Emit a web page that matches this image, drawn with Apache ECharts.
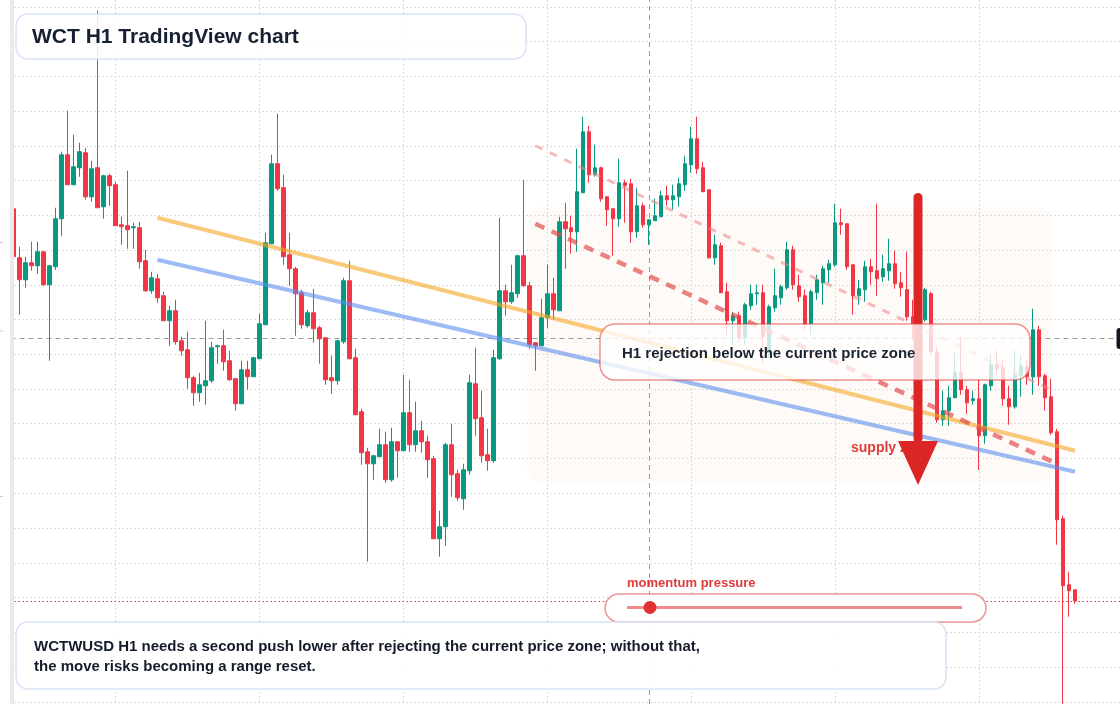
<!DOCTYPE html>
<html>
<head>
<meta charset="utf-8">
<title>WCT H1 TradingView chart</title>
<script src="https://cdn.jsdelivr.net/npm/echarts@6/dist/echarts.min.js"></script>
<style>
    html, body { margin: 0; padding: 0; background: #fff; }
    #chart { width: 1120px; height: 704px; }
</style>
</head>
<body>
<div id="chart"></div>
<script>
// WCTUSD H1 candles (price scale has no visible labels)
const open = [0.2578,0.2529,0.2507,0.2524,0.2521,0.2535,0.2502,0.2520,0.2568,0.2632,
    0.2602,0.2619,0.2634,0.2590,0.2619,0.2580,0.2611,0.2602,0.2562,0.2561,
    0.2559,0.2559,0.2526,0.2496,0.2508,0.2491,0.2466,0.2476,0.2446,0.2437,
    0.2409,0.2394,0.2401,0.2406,0.2440,0.2441,0.2426,0.2408,0.2383,0.2417,
    0.2410,0.2428,0.2462,0.2543,0.2623,0.2599,0.2532,0.2518,0.2494,0.2461,
    0.2474,0.2459,0.2449,0.2409,0.2406,0.2445,0.2506,0.2429,0.2375,0.2335,
    0.2323,0.2330,0.2342,0.2307,0.2345,0.2336,0.2374,0.2342,0.2356,0.2345,
    0.2328,0.2248,0.2260,0.2342,0.2313,0.2288,0.2316,0.2403,0.2369,0.2332,
    0.2326,0.2428,0.2496,0.2485,0.2493,0.2531,0.2501,0.2444,0.2441,0.2469,
    0.2493,0.2476,0.2565,0.2559,0.2555,0.2594,0.2655,0.2612,0.2619,0.2590,
    0.2578,0.2568,0.2604,0.2603,0.2555,0.2581,0.2562,0.2566,0.2570,0.2591,
    0.2587,0.2590,0.2602,0.2622,0.2648,0.2619,0.2597,0.2529,0.2541,0.2495,
    0.2466,0.2471,0.2449,0.2481,0.2493,0.2494,0.2434,0.2479,0.2489,0.2499,
    0.2537,0.2501,0.2491,0.2463,0.2494,0.2504,0.2517,0.2522,0.2564,0.2563,
    0.2522,0.2491,0.2497,0.2520,0.2516,0.2510,0.2516,0.2523,0.2504,0.2497,
    0.2470,0.2463,0.2467,0.2493,0.2435,0.2367,0.2376,0.2389,0.2414,0.2397,
    0.2386,0.2388,0.2351,0.2401,0.2422,0.2419,0.2388,0.2380,0.2411,0.2420,
    0.2410,0.2457,0.2411,0.2390,0.2355,0.2268,0.2202,0.2197]
const close = [0.2530,0.2507,0.2524,0.2521,0.2535,0.2502,0.2521,0.2568,0.2632,0.2602,
    0.2620,0.2635,0.2590,0.2618,0.2579,0.2611,0.2601,0.2561,0.2560,0.2557,
    0.2560,0.2525,0.2496,0.2509,0.2489,0.2466,0.2476,0.2445,0.2436,0.2409,
    0.2394,0.2402,0.2406,0.2439,0.2441,0.2425,0.2407,0.2383,0.2417,0.2410,
    0.2429,0.2463,0.2544,0.2623,0.2598,0.2530,0.2518,0.2493,0.2462,0.2474,
    0.2458,0.2448,0.2407,0.2406,0.2446,0.2506,0.2428,0.2372,0.2334,0.2323,
    0.2331,0.2342,0.2307,0.2345,0.2336,0.2374,0.2342,0.2356,0.2345,0.2327,
    0.2248,0.2260,0.2342,0.2312,0.2289,0.2317,0.2404,0.2368,0.2331,0.2326,
    0.2429,0.2496,0.2485,0.2494,0.2531,0.2501,0.2442,0.2441,0.2469,0.2493,
    0.2477,0.2565,0.2558,0.2555,0.2595,0.2655,0.2612,0.2619,0.2588,0.2577,
    0.2568,0.2604,0.2601,0.2555,0.2581,0.2562,0.2567,0.2571,0.2591,0.2587,
    0.2591,0.2603,0.2623,0.2648,0.2618,0.2595,0.2529,0.2542,0.2494,0.2466,
    0.2471,0.2449,0.2482,0.2493,0.2494,0.2450,0.2480,0.2491,0.2500,0.2537,
    0.2502,0.2490,0.2462,0.2495,0.2507,0.2518,0.2523,0.2564,0.2562,0.2520,
    0.2491,0.2498,0.2520,0.2515,0.2508,0.2518,0.2523,0.2503,0.2499,0.2470,
    0.2462,0.2467,0.2497,0.2435,0.2367,0.2376,0.2389,0.2414,0.2397,0.2384,
    0.2388,0.2351,0.2402,0.2422,0.2418,0.2388,0.2380,0.2412,0.2421,0.2410,
    0.2457,0.2410,0.2389,0.2354,0.2267,0.2201,0.2196,0.2186]
const low = [0.2527,0.2472,0.2499,0.2516,0.2513,0.2501,0.2426,0.2517,0.2551,0.2602,
    0.2602,0.2610,0.2587,0.2585,0.2579,0.2568,0.2581,0.2561,0.2542,0.2538,
    0.2538,0.2518,0.2495,0.2493,0.2484,0.2466,0.2441,0.2442,0.2431,0.2398,
    0.2381,0.2385,0.2382,0.2404,0.2423,0.2416,0.2406,0.2376,0.2383,0.2397,
    0.2410,0.2428,0.2462,0.2543,0.2596,0.2522,0.2501,0.2451,0.2458,0.2459,
    0.2444,0.2423,0.2402,0.2393,0.2402,0.2443,0.2428,0.2372,0.2322,0.2225,
    0.2307,0.2330,0.2304,0.2305,0.2309,0.2336,0.2335,0.2335,0.2334,0.2309,
    0.2248,0.2230,0.2241,0.2290,0.2286,0.2277,0.2312,0.2351,0.2324,0.2316,
    0.2324,0.2427,0.2471,0.2483,0.2489,0.2500,0.2438,0.2416,0.2441,0.2459,
    0.2467,0.2476,0.2518,0.2533,0.2535,0.2594,0.2604,0.2610,0.2585,0.2561,
    0.2531,0.2560,0.2564,0.2544,0.2549,0.2559,0.2542,0.2566,0.2570,0.2581,
    0.2577,0.2580,0.2596,0.2614,0.2613,0.2595,0.2528,0.2522,0.2494,0.2452,
    0.2442,0.2445,0.2442,0.2477,0.2482,0.2424,0.2429,0.2475,0.2482,0.2497,
    0.2497,0.2485,0.2457,0.2452,0.2487,0.2482,0.2504,0.2520,0.2552,0.2517,
    0.2472,0.2482,0.2485,0.2502,0.2491,0.2505,0.2506,0.2498,0.2490,0.2466,
    0.2447,0.2442,0.2465,0.2432,0.2364,0.2361,0.2361,0.2389,0.2392,0.2373,
    0.2382,0.2317,0.2343,0.2396,0.2412,0.2381,0.2362,0.2378,0.2390,0.2402,
    0.2392,0.2401,0.2376,0.2352,0.2242,0.2083,0.2170,0.2183]
const high = [0.2580,0.2540,0.2530,0.2545,0.2545,0.2535,0.2522,0.2579,0.2635,0.2676,
    0.2652,0.2644,0.2639,0.2626,0.2776,0.2612,0.2613,0.2605,0.2570,0.2616,
    0.2564,0.2565,0.2537,0.2515,0.2513,0.2495,0.2481,0.2487,0.2450,0.2455,
    0.2411,0.2414,0.2466,0.2445,0.2442,0.2457,0.2436,0.2409,0.2426,0.2426,
    0.2430,0.2473,0.2554,0.2632,0.2673,0.2612,0.2554,0.2520,0.2497,0.2477,
    0.2498,0.2461,0.2449,0.2431,0.2447,0.2509,0.2526,0.2438,0.2378,0.2339,
    0.2332,0.2358,0.2355,0.2359,0.2345,0.2412,0.2407,0.2385,0.2366,0.2351,
    0.2331,0.2276,0.2344,0.2363,0.2317,0.2323,0.2412,0.2439,0.2396,0.2358,
    0.2437,0.2569,0.2502,0.2522,0.2532,0.2607,0.2505,0.2444,0.2488,0.2522,
    0.2509,0.2570,0.2584,0.2571,0.2638,0.2670,0.2661,0.2642,0.2620,0.2590,
    0.2578,0.2628,0.2607,0.2608,0.2599,0.2584,0.2567,0.2588,0.2596,0.2601,
    0.2602,0.2609,0.2631,0.2660,0.2670,0.2625,0.2597,0.2552,0.2544,0.2504,
    0.2475,0.2475,0.2484,0.2502,0.2502,0.2502,0.2482,0.2518,0.2502,0.2545,
    0.2541,0.2512,0.2497,0.2497,0.2512,0.2521,0.2527,0.2583,0.2578,0.2563,
    0.2522,0.2507,0.2526,0.2528,0.2583,0.2532,0.2548,0.2536,0.2515,0.2535,
    0.2487,0.2477,0.2499,0.2495,0.2440,0.2396,0.2401,0.2434,0.2450,0.2401,
    0.2396,0.2408,0.2403,0.2431,0.2436,0.2427,0.2401,0.2436,0.2432,0.2427,
    0.2478,0.2461,0.2413,0.2408,0.2358,0.2271,0.2215,0.2197]

// trend lines drawn on the chart: [candle index, price]
const orangeLine = [[24, 0.2569], [177, 0.2336]]
const blueLine = [[24, 0.2527], [177, 0.2315]]
const rejectLine = [[87, 0.2563], [174, 0.2323]]
const upperLine = [[87, 0.2641], [173, 0.2397]]

const firstDayBar = 17 // day separators every 24 bars from here
const crossIndex = 106
const crossPrice = 0.2449
const lastPrice = 0.2186

// 178 hourly bars plus empty right margin
const hours = Array.from({ length: 185 }, (_, i) => 'h' + i)

const UP = '#089981'
const DOWN = '#f23645'
const FONT = '"Liberation Sans", Arial, sans-serif'
const GRID_LINE = { color: '#d2d2d2', width: 1, type: [1.5, 2.5] }
const hidden = { axisLine: { show: false }, axisTick: { show: false }, axisLabel: { show: false } }

const chart = echarts.init(document.getElementById('chart'))

function trend(data, color, width, type, opacity) {
    return {
        type: 'line',
        data,
        zlevel: 1,
        z: 3,
        symbol: 'none',
        silent: true,
        lineStyle: { color, width, type, opacity, cap: 'butt' }
    }
}

function guide(data, color, type, axis) {
    return {
        type: 'line',
        data: [],
        xAxisIndex: axis,
        yAxisIndex: axis,
        zlevel: 1,
        z: 5,
        markLine: {
            silent: true,
            precision: 6,
            symbol: ['none', 'none'],
            label: { show: false },
            animation: false,
            lineStyle: { color, width: 1, type },
            emphasis: { disabled: true },
            data
        }
    }
}

// overlay drawing layer (boxes, arrow, texts) sits above the chart layer
function over(el) {
    return { silent: true, zlevel: 2, ...el }
}

chart.setOption({
    animation: false,
    backgroundColor: '#fff',
    grid: [
        { left: 10.5, top: 6.75, width: 1110, height: 695 },
        // second grid: full-height bar index scale for day separators and the crosshair
        { left: 115.5, top: 0, width: 1005, height: 704 }
    ],
    xAxis: [
        { type: 'category', gridIndex: 0, data: hours, boundaryGap: true, ...hidden, splitLine: { show: false } },
        { type: 'value', gridIndex: 1, min: firstDayBar, max: firstDayBar + 167.5, interval: 24, ...hidden, splitLine: { show: true, lineStyle: GRID_LINE } }
    ],
    yAxis: [
        { type: 'value', gridIndex: 0, min: 0.2085, max: 0.278, interval: 0.003475, ...hidden, splitLine: { show: true, lineStyle: GRID_LINE } },
        { type: 'value', gridIndex: 1, min: 0, max: 1, ...hidden, splitLine: { show: false } }
    ],
    series: [
        {
            type: 'candlestick',
            zlevel: 1,
            z: 2,
            clip: false,
            barWidth: 4,
            data: open.map((o, i) => [o, close[i], low[i], high[i]]),
            itemStyle: {
                color: UP,
                color0: DOWN,
                borderColor: UP,
                borderColor0: DOWN,
                borderWidth: 1
            }
        },
        trend(orangeLine, '#f5a623', 4, 'solid', 0.6),
        trend(blueLine, '#5b8def', 4, 'solid', 0.6),
        trend(upperLine, '#ec8585', 3, [8, 8], 0.55),
        trend(rejectLine, '#e34d4d', 4.5, [10, 8], 0.7),
        guide([{ xAxis: crossIndex }], '#9a9a9a', [5, 4], 1),
        guide([{ yAxis: crossPrice }], '#9a9a9a', [5, 4], 0),
        guide([{ yAxis: lastPrice }], DOWN, [1.5, 2.5], 0)
    ],
    graphic: [
        // supply zone shading, under the candles
        { type: 'rect', silent: true, zlevel: 0, z: 1, shape: { x: 527, y: 207, width: 525, height: 275, r: 14 }, style: { fill: 'rgba(250,222,205,0.16)' } },
        // left price-scale edge
        over({ type: 'rect', z: 30, shape: { x: 10, y: 0, width: 4, height: 704 }, style: { fill: '#eaeaea' } }),
        over({ type: 'line', z: 30, shape: { x1: 0, y1: 242.5, x2: 3, y2: 242.5 }, style: { stroke: '#c9c9c9', lineWidth: 1 } }),
        over({ type: 'line', z: 30, shape: { x1: 0, y1: 331, x2: 3, y2: 331 }, style: { stroke: '#c9c9c9', lineWidth: 1 } }),
        over({ type: 'line', z: 30, shape: { x1: 0, y1: 496.5, x2: 3, y2: 496.5 }, style: { stroke: '#c9c9c9', lineWidth: 1 } }),
        // crosshair price tag, cut by the right edge
        over({ type: 'rect', z: 30, shape: { x: 1116.5, y: 328, width: 12, height: 21, r: 3 }, style: { fill: '#131722' } }),
        // supply zone label + arrow
        over({ type: 'text', z: 10, x: 851, y: 448, style: { text: 'supply zone', font: 'bold 14px ' + FONT, fill: '#e23b3b', textVerticalAlign: 'middle', verticalAlign: 'middle' } }),
        over({ type: 'rect', z: 11, shape: { x: 913.5, y: 193, width: 9, height: 250, r: 4.5 }, style: { fill: '#dc2626' } }),
        over({ type: 'polygon', z: 11, shape: { points: [[898, 441], [938, 441], [918, 485]] }, style: { fill: '#dc2626' } }),
        // rejection callout
        over({ type: 'rect', z: 12, shape: { x: 600, y: 324, width: 430, height: 56, r: 15 }, style: { fill: 'rgba(255,255,255,0.78)', stroke: 'rgba(222,60,60,0.55)', lineWidth: 1.5 } }),
        over({ type: 'text', z: 13, x: 622, y: 354, style: { text: 'H1 rejection below the current price zone', font: 'bold 15px ' + FONT, fill: '#1a2332', textVerticalAlign: 'middle', verticalAlign: 'middle' } }),
        // title
        over({ type: 'rect', z: 20, shape: { x: 16, y: 14, width: 510, height: 45, r: 12 }, style: { fill: 'rgba(255,255,255,0.86)', stroke: '#d6e4f6', lineWidth: 1.5 } }),
        over({ type: 'text', z: 21, x: 32, y: 37, style: { text: 'WCT H1 TradingView chart', font: 'bold 21px ' + FONT, fill: '#172033', textVerticalAlign: 'middle', verticalAlign: 'middle' } }),
        // momentum slider
        over({ type: 'text', z: 20, x: 627, y: 583, style: { text: 'momentum pressure', font: 'bold 13px ' + FONT, fill: '#e23b3b', textVerticalAlign: 'middle', verticalAlign: 'middle' } }),
        over({ type: 'rect', z: 20, shape: { x: 605, y: 594, width: 381, height: 28, r: 14 }, style: { fill: '#fff', stroke: 'rgba(222,60,60,0.55)', lineWidth: 1.5 } }),
        over({ type: 'line', z: 21, shape: { x1: 627, y1: 607.5, x2: 962, y2: 607.5 }, style: { stroke: '#ef8b8b', lineWidth: 3 } }),
        over({ type: 'circle', z: 22, shape: { cx: 650, cy: 607.5, r: 6.5 }, style: { fill: '#e03131' } }),
        // bottom note
        over({ type: 'rect', z: 20, shape: { x: 16, y: 622, width: 930, height: 67, r: 12 }, style: { fill: 'rgba(255,255,255,0.95)', stroke: '#d6e4f6', lineWidth: 1.5 } }),
        over({ type: 'text', z: 21, x: 34, y: 647, style: { text: 'WCTWUSD H1 needs a second push lower after rejecting the current price zone; without that,', font: 'bold 15px ' + FONT, fill: '#141c2b', textVerticalAlign: 'middle', verticalAlign: 'middle' } }),
        over({ type: 'text', z: 21, x: 34, y: 667, style: { text: 'the move risks becoming a range reset.', font: 'bold 15px ' + FONT, fill: '#141c2b', textVerticalAlign: 'middle', verticalAlign: 'middle' } })
    ]
})
</script>
</body>
</html>
